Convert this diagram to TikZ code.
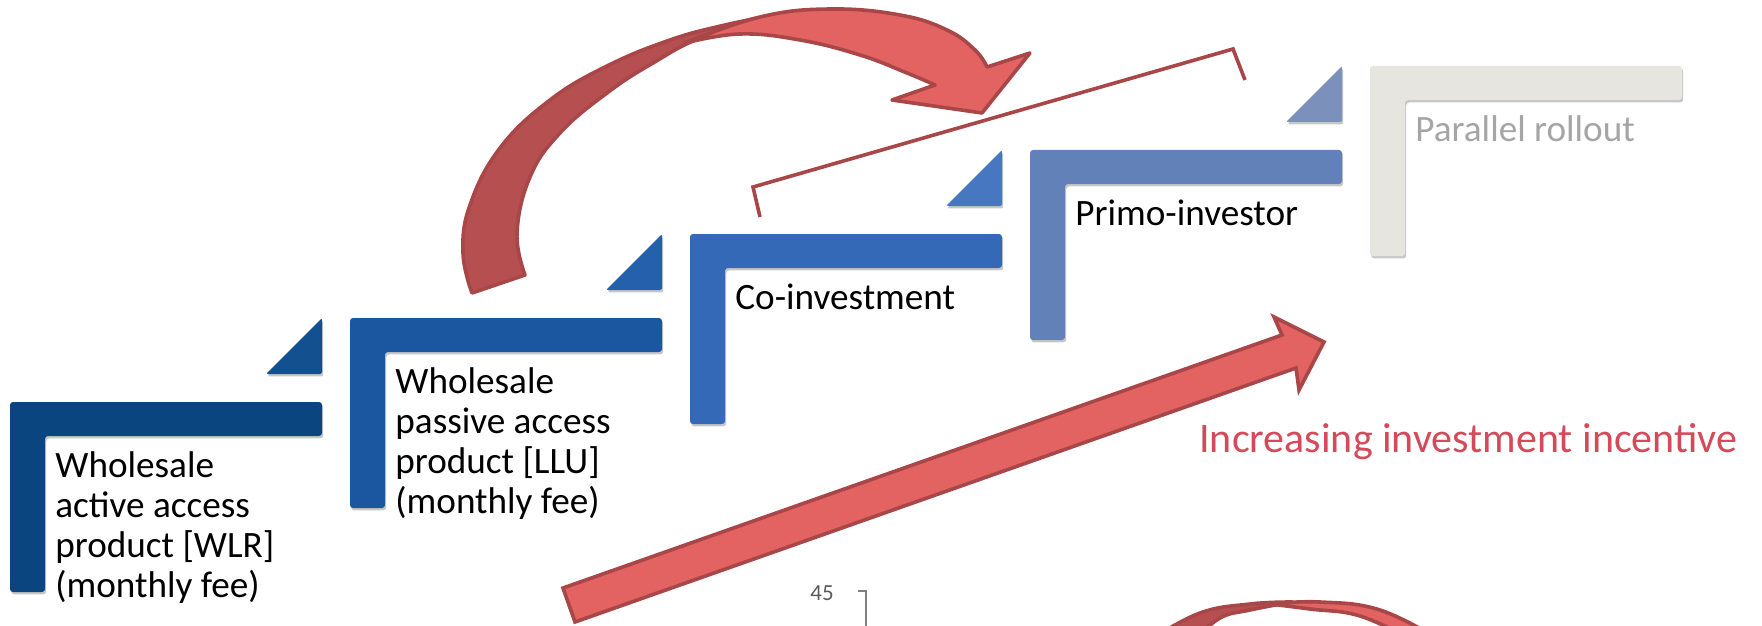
\documentclass[tikz,border=0pt]{standalone}
\usepackage{fontspec}
\setmainfont{Carlito}
\usetikzlibrary{shadows}
\definecolor{cWLR}{RGB}{11,69,128}
\definecolor{cLLU}{RGB}{27,86,160}
\definecolor{cCO}{RGB}{52,105,183}
\definecolor{cPRI}{RGB}{99,129,185}
\definecolor{cPAR}{RGB}{231,229,223}
\definecolor{tWLR}{RGB}{19,80,143}
\definecolor{tLLU}{RGB}{36,96,172}
\definecolor{tCO}{RGB}{70,119,192}
\definecolor{tPRI}{RGB}{123,144,186}
\definecolor{arrowlight}{RGB}{227,99,99}
\definecolor{arrowdark}{RGB}{182,80,80}
\definecolor{arrowline}{RGB}{168,70,72}
\definecolor{incred}{RGB}{212,74,90}
\definecolor{partext}{RGB}{165,165,165}
\definecolor{pagegray}{RGB}{90,90,90}
\tikzset{
  stepshadow/.style={drop shadow={shadow xshift=0.6pt, shadow yshift=-1.2pt, opacity=0.22, fill=black}},
  steptext/.style={anchor=base west, align=left, inner sep=0pt, font=\fontsize{18.6}{20}\selectfont, text=black},
  redarrow/.style={draw=arrowline, line width=1.8pt, line join=round},
  bracketline/.style={draw=arrowline, line width=1.8pt, line join=miter}
}
\newcommand\stairshape[4]{%
  \path[fill=#3, stepshadow, rounded corners=1.5pt] (#1,#2) -- ++(312,0) -- ++(0,34) -- ++(-277,0) -- ++(0,156) -- ++(-35,0) -- cycle;
  \ifx\relax#4\relax\else
  \path[fill=#4, stepshadow, rounded corners=1pt] ({#1+256},{#2-28}) -- ({#1+312},{#2-28}) -- ({#1+312},{#2-84}) -- cycle;
  \fi
}
\begin{document}
\begin{tikzpicture}[x=0.5pt, y=-0.5pt]
\useasboundingbox (0,0) rectangle (1762,626);
\clip (0,0) rectangle (1762,626);

% steps
\stairshape{10}{402}{cWLR}{tWLR}
\stairshape{350}{318}{cLLU}{tLLU}
\stairshape{690}{234}{cCO}{tCO}
\stairshape{1030}{150}{cPRI}{tPRI}
\stairshape{1370}{66}{cPAR}{}

% multi-line nodes: base anchor = baseline of last line
\node[steptext] (wlr) at (55,597) {Wholesale\\active access\\product [WLR]\\(monthly fee)};
\node[steptext] (llu) at (395,513) {Wholesale\\passive access\\product [LLU]\\(monthly fee)};
\node[steptext] (coinv) at (735,309) {Co-investment};
\node[steptext] (primo) at (1075,225) {Primo-investor};
\node[steptext, text=partext] (par) at (1415,141) {Parallel rollout};

% big curved arrow (twisted ribbon)
\path[fill=arrowdark, redarrow]
  plot[smooth, tension=0.7] coordinates {(472,293) (463,253) (470,205) (500,148) (550,100) (607,66) (670,40) (725,25) (780,14)}
  -- plot[smooth, tension=0.7] coordinates {(780,14) (703,37) (653,63) (607,93) (560,133) (530,177) (517,233) (525,275)}
  -- cycle;
\path[fill=arrowlight, redarrow]
  plot[smooth, tension=0.7] coordinates {(685,43) (760,17) (830,9) (900,15) (947,30) (975,50) (987,67)}
  -- (1030,53) -- (982,113) -- (892,100) -- (935,85)
  -- plot[smooth, tension=0.7] coordinates {(935,85) (907,73) (860,55) (800,40) (740,34) (685,43)}
  -- cycle;

% bracket line
\coordinate (bl1) at (760,217);
\coordinate (bl2) at (753,187);
\coordinate (br2) at (1233,49);
\coordinate (br1) at (1245,80);
\draw[bracketline] (bl1) -- (bl2) -- (br2) -- (br1);

% increasing arrow
\path[fill=arrowlight, redarrow, line join=miter]
  (563,588) -- (1282,335) -- (1274,317) -- (1324,342) -- (1299,390) -- (1296,368) -- (575,622) -- cycle;
\node[anchor=base west, inner sep=0pt, font=\fontsize{21}{24}\selectfont, text=incred] (inc) at (1199,452) {Increasing investment incentive};

% page number fragment
\node[anchor=base west, inner sep=0pt, font=\fontsize{11.5}{13}\selectfont, text=pagegray] (pg) at (810,600) {45};
\coordinate (pgA) at (858,591);
\coordinate (pgB) at (866,591);
\coordinate (pgC) at (866,640);
\draw[gray, line width=0.7pt] (pgA) -- (pgB) -- (pgC);

% bottom partial curved arrow
\path[fill=arrowdark, redarrow]
  plot[smooth, tension=0.7] coordinates {(1150,640) (1200,613) (1250,604) (1292,602)}
  -- plot[smooth, tension=0.7] coordinates {(1292,602) (1250,610) (1220,618) (1195,640)}
  -- cycle;
\path[fill=arrowlight, redarrow]
  plot[smooth, tension=0.7] coordinates {(1270,604) (1320,602) (1380,610) (1440,640)}
  -- plot[smooth, tension=0.7] coordinates {(1412,640) (1360,616) (1310,609) (1270,604)}
  -- cycle;
\end{tikzpicture}
\end{document}
